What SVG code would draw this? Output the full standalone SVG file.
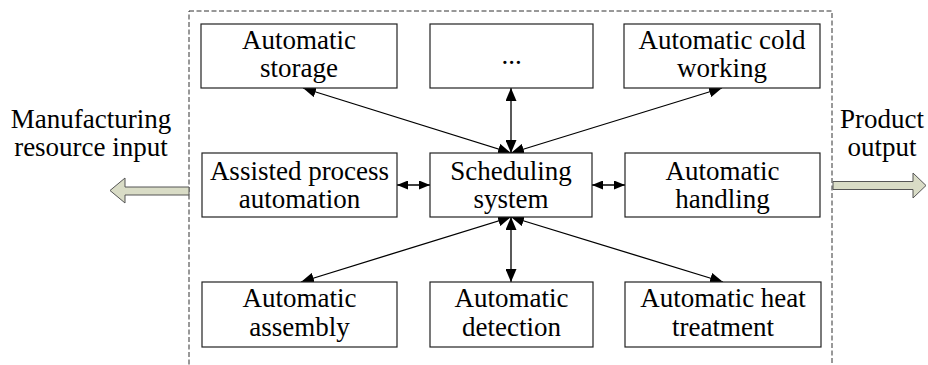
<svg xmlns="http://www.w3.org/2000/svg" width="928" height="365" viewBox="0 0 928 365">
  <style>
    .box { fill: #ffffff; stroke: #222222; stroke-width: 1.2; }
    .lbl { font-family: 'Liberation Serif', 'Times New Roman', serif; font-size: 27px; fill: #000000; text-anchor: middle; }
    .link { stroke: #000000; stroke-width: 1.3; fill: none; }
    .main { marker-start: url(#head); marker-end: url(#head); }
    .side { marker-start: url(#headSmall); marker-end: url(#headSmall); }
    .frame { fill: none; stroke: #333333; stroke-width: 1; stroke-dasharray: 5 2.5; }
    .flow { fill: #d9dcc6; stroke: #555555; stroke-width: 1; }
  </style>
  <defs>
    <marker id="head" viewBox="0 0 13 11" refX="13" refY="5.5" markerWidth="13" markerHeight="11" markerUnits="userSpaceOnUse" orient="auto-start-reverse">
      <path d="M0,0 L13,5.5 L0,11 Z" fill="#000000"/>
    </marker>
    <marker id="headSmall" viewBox="0 0 11 9" refX="11" refY="4.5" markerWidth="11" markerHeight="9" markerUnits="userSpaceOnUse" orient="auto-start-reverse">
      <path d="M0,0 L11,4.5 L0,9 Z" fill="#000000"/>
    </marker>
  </defs>

  <!-- system boundary (open at the bottom edge) -->
  <rect class="frame" x="189" y="11" width="643" height="370"/>

  <!-- inflow / outflow arrows -->
  <g id="input-arrow">
    <polygon class="flow" points="189,187 125,187 125,178 110,190.5 125,203 125,195 189,195"/>
  </g>
  <g id="output-arrow">
    <polygon class="flow" points="833,181.5 913,181.5 913,173 926,185.5 913,198 913,189.5 833,189.5"/>
  </g>

  <g id="label-input">
    <text class="lbl" x="91" y="128">Manufacturing</text>
    <text class="lbl" x="91" y="156">resource input</text>
  </g>
  <g id="label-output">
    <text class="lbl" x="882" y="128">Product</text>
    <text class="lbl" x="882" y="156">output</text>
  </g>

  <!-- connectors -->
  <g id="connectors">
    <line class="link main" x1="511" y1="153" x2="303" y2="88"/>
    <line class="link main" x1="511" y1="153" x2="511" y2="88"/>
    <line class="link main" x1="511" y1="153" x2="722" y2="88"/>
    <line class="link main" x1="511" y1="217" x2="301" y2="282"/>
    <line class="link main" x1="511" y1="217" x2="511" y2="282"/>
    <line class="link main" x1="511" y1="217" x2="723" y2="282"/>
    <line class="link side" x1="397" y1="185" x2="430" y2="185"/>
    <line class="link side" x1="592" y1="185" x2="625" y2="185"/>
  </g>

  <!-- top row -->
  <g id="automatic-storage">
    <rect class="box" x="201" y="24" width="196" height="64"/>
    <text class="lbl" x="299" y="49">Automatic</text>
    <text class="lbl" x="299" y="77">storage</text>
  </g>
  <g id="more">
    <rect class="box" x="430" y="24" width="163" height="64"/>
    <text class="lbl" x="511.5" y="64">...</text>
  </g>
  <g id="automatic-cold-working">
    <rect class="box" x="624" y="24" width="196" height="64"/>
    <text class="lbl" x="722" y="49">Automatic cold</text>
    <text class="lbl" x="722" y="77">working</text>
  </g>

  <!-- middle row -->
  <g id="assisted-process-automation">
    <rect class="box" x="202" y="153" width="195" height="64"/>
    <text class="lbl" x="299.5" y="180">Assisted process</text>
    <text class="lbl" x="299.5" y="208">automation</text>
  </g>
  <g id="scheduling-system">
    <rect class="box" x="430" y="153" width="162" height="64"/>
    <text class="lbl" x="511" y="180">Scheduling</text>
    <text class="lbl" x="511" y="208">system</text>
  </g>
  <g id="automatic-handling">
    <rect class="box" x="625" y="153" width="195" height="64"/>
    <text class="lbl" x="722.5" y="180">Automatic</text>
    <text class="lbl" x="722.5" y="208">handling</text>
  </g>

  <!-- bottom row -->
  <g id="automatic-assembly">
    <rect class="box" x="202" y="282" width="195" height="65"/>
    <text class="lbl" x="299.5" y="307">Automatic</text>
    <text class="lbl" x="299.5" y="336">assembly</text>
  </g>
  <g id="automatic-detection">
    <rect class="box" x="430" y="282" width="163" height="65"/>
    <text class="lbl" x="511.5" y="307">Automatic</text>
    <text class="lbl" x="511.5" y="336">detection</text>
  </g>
  <g id="automatic-heat-treatment">
    <rect class="box" x="625" y="282" width="196" height="65"/>
    <text class="lbl" x="723" y="307">Automatic heat</text>
    <text class="lbl" x="723" y="336">treatment</text>
  </g>
</svg>
